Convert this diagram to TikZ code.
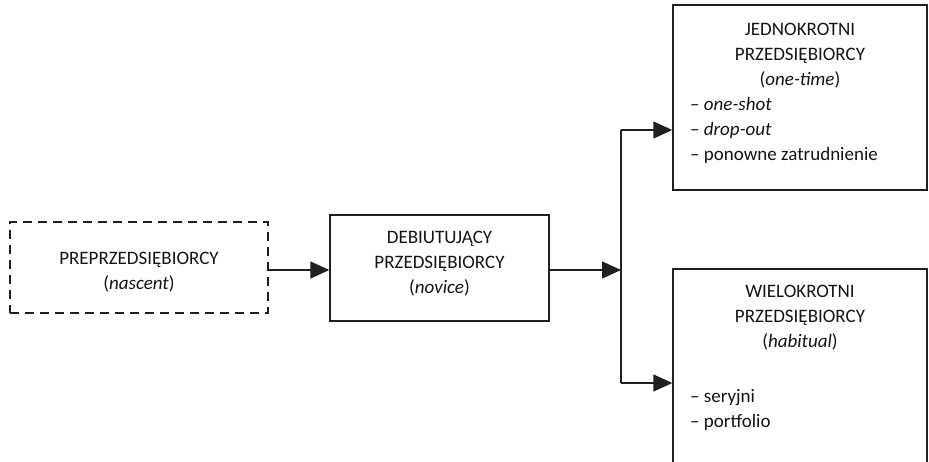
\documentclass[tikz,border=0pt]{standalone}
\usepackage{fontspec}
\setmainfont{Carlito}
\usetikzlibrary{arrows.meta}
\begin{document}
\begin{tikzpicture}[x=1pt,y=-1pt,
  box/.style={draw=black!88,line width=1.4pt,rectangle,inner sep=0pt},
  dashbox/.style={box,dash pattern=on 9pt off 6pt},
  label/.style={font=\fontsize{19}{25}\selectfont,text=black!92,inner sep=0pt},
  link/.style={draw=black!88,line width=1.4pt,-{Triangle[length=19pt,width=17pt]}},
  plain/.style={draw=black!88,line width=1.4pt}]
\useasboundingbox (0,0) rectangle (929,461);
\begin{scope}
\clip (0,0) rectangle (929,461);
% boxes
\node[dashbox,minimum width=258pt,minimum height=91pt] (pre) at (139,267.5) {};
\node[box,minimum width=219pt,minimum height=106pt] (nov) at (439.5,268) {};
\node[box,minimum width=254pt,minimum height=185pt] (one) at (800,97.5) {};
\node[box,minimum width=254pt,minimum height=211pt] (hab) at (800,374.5) {};
% texts
\node[label,align=center] (preT) at (139,272) {PREPRZEDSIĘBIORCY\\(\textit{nascent})};
\node[label,align=center] (novT) at (439.5,264) {DEBIUTUJĄCY\\PRZEDSIĘBIORCY\\(\textit{novice})};
\node[label,align=center] (oneT) at (800,56) {JEDNOKROTNI\\PRZEDSIĘBIORCY\\(\textit{one-time})};
\node[label,align=left,anchor=west] (oneL) at (690,130) {– \textit{one-shot}\\– \textit{drop-out}\\– ponowne zatrudnienie};
\node[label,align=center] (habT) at (800,318) {WIELOKROTNI\\PRZEDSIĘBIORCY\\(\textit{habitual})};
\node[label,align=left,anchor=west] (habL) at (690,409.5) {– seryjni\\– portfolio};
% connectors
\coordinate (split) at (621,270);
\coordinate (up) at (621,130);
\coordinate (down) at (621,383);
\draw[link] (pre.east |- split) -- (nov.west |- split);
\draw[link] (nov.east |- split) -- (split);
\draw[plain] (up) -- (down);
\draw[link] (up) -- (one.west |- up);
\draw[link] (down) -- (hab.west |- down);
\end{scope}
\end{tikzpicture}
\end{document}
